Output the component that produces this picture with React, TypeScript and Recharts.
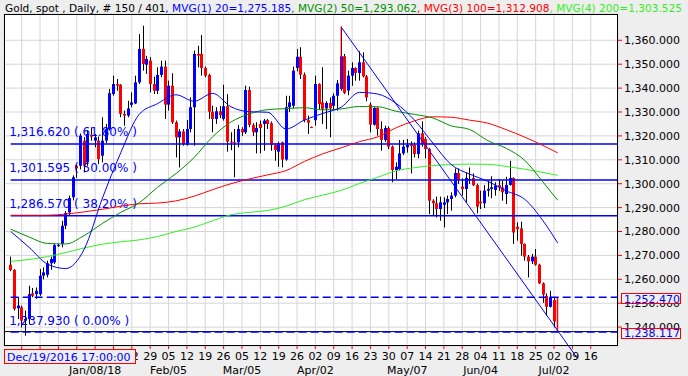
import React from "react";
import { Bar, CartesianGrid, ComposedChart, Line, ReferenceLine, XAxis, YAxis } from "recharts";

// daily candles, Dec 6 2017 .. Jul 3 2018 (index = trading day)
const OPEN = [
  1266.1, 1263.9, 1247.9, 1248.3, 1242.7, 1243.4, 1254.1, 1253.8, 1253.8, 1261.5,
  1261.9, 1266.7, 1267.1, 1274.1, 1274.8, 1282.4, 1288.0, 1294.3, 1307.5, 1307.5,
  1318.0, 1308.9, 1320.5, 1318.0, 1318.0, 1311.7, 1318.0, 1322.9, 1337.5, 1341.7,
  1341.4, 1329.2, 1328.5, 1333.0, 1333.6, 1342.4, 1356.4, 1349.8, 1351.5, 1341.7,
  1338.9, 1345.5, 1349.0, 1333.1, 1341.0, 1325.7, 1319.4, 1321.9, 1316.3, 1322.9,
  1332.0, 1354.3, 1354.3, 1348.4, 1345.5, 1330.1, 1327.1, 1330.3, 1327.1, 1332.4,
  1317.6, 1317.5, 1317.3, 1322.9, 1321.5, 1339.2, 1324.6, 1321.5, 1325.0, 1325.0,
  1326.6, 1325.3, 1316.2, 1313.4, 1317.3, 1310.1, 1332.0, 1332.6, 1348.4, 1353.1,
  1345.6, 1326.6, 1323.7, 1326.6, 1341.7, 1334.0, 1331.5, 1333.8, 1332.6, 1336.8,
  1339.6, 1353.3, 1339.0, 1345.2, 1348.4, 1346.3, 1350.8, 1344.9, 1333.1, 1324.7,
  1331.7, 1322.9, 1318.3, 1323.3, 1315.5, 1305.7, 1306.1, 1312.7, 1315.2, 1316.4,
  1316.2, 1312.4, 1321.1, 1318.7, 1314.5, 1292.9, 1291.8, 1289.4, 1291.2, 1292.2,
  1293.6, 1295.0, 1304.5, 1298.8, 1297.8, 1301.5, 1302.4, 1299.4, 1292.5, 1291.8,
  1297.1, 1297.8, 1297.4, 1299.4, 1298.5, 1295.7, 1299.5, 1302.4, 1282.0, 1281.3,
  1274.8, 1269.5, 1267.5, 1269.5, 1266.1, 1258.3, 1253.1, 1248.5, 1251.3, 1252.5,
];
const HIGH = [
  1269.5, 1264.3, 1252.5, 1249.0, 1246.9, 1257.3, 1256.4, 1256.6, 1264.3, 1265.0,
  1267.8, 1269.5, 1274.8, 1274.8, 1284.5, 1288.5, 1295.0, 1303.5, 1308.0, 1321.0,
  1319.5, 1322.2, 1323.6, 1320.8, 1319.7, 1327.8, 1325.0, 1339.6, 1345.2, 1343.8,
  1341.7, 1330.6, 1334.7, 1338.2, 1345.2, 1362.6, 1366.1, 1353.5, 1352.9, 1344.8,
  1348.7, 1351.5, 1351.5, 1343.1, 1346.2, 1326.4, 1322.9, 1322.9, 1326.6, 1336.1,
  1355.7, 1357.7, 1362.2, 1349.0, 1346.0, 1332.6, 1332.0, 1332.5, 1341.4, 1337.5,
  1321.5, 1322.9, 1324.6, 1323.6, 1341.0, 1340.6, 1325.3, 1325.7, 1326.4, 1327.1,
  1327.1, 1326.0, 1317.0, 1317.6, 1317.6, 1336.8, 1336.8, 1349.0, 1356.4, 1357.1,
  1346.5, 1328.5, 1323.9, 1345.2, 1342.0, 1348.7, 1334.5, 1336.1, 1337.8, 1343.4,
  1365.7, 1354.3, 1347.3, 1350.8, 1348.7, 1355.4, 1355.0, 1345.5, 1334.0, 1332.0,
  1332.0, 1326.1, 1324.3, 1324.0, 1316.0, 1308.9, 1318.3, 1318.3, 1318.7, 1317.7,
  1317.3, 1322.2, 1326.1, 1319.5, 1315.0, 1293.5, 1294.6, 1294.6, 1294.3, 1295.0,
  1296.4, 1306.4, 1306.4, 1302.2, 1304.7, 1306.8, 1304.3, 1300.0, 1297.1, 1299.4,
  1301.3, 1303.1, 1300.6, 1302.0, 1301.3, 1302.9, 1309.6, 1302.7, 1283.8, 1284.1,
  1275.0, 1270.2, 1270.6, 1272.7, 1266.5, 1258.7, 1254.1, 1255.2, 1252.5, 1252.5,
];
const LOW = [
  1263.4, 1246.9, 1243.4, 1239.9, 1236.4, 1241.3, 1252.5, 1251.8, 1253.1, 1260.0,
  1260.8, 1264.0, 1266.4, 1273.6, 1273.4, 1281.0, 1286.5, 1293.0, 1302.5, 1306.0,
  1304.7, 1307.5, 1318.0, 1315.2, 1308.2, 1308.9, 1317.0, 1322.2, 1336.8, 1338.9,
  1327.8, 1324.3, 1327.8, 1332.0, 1333.3, 1341.7, 1347.3, 1345.9, 1338.2, 1337.5,
  1337.5, 1344.5, 1327.1, 1330.6, 1325.0, 1311.0, 1306.8, 1315.9, 1315.9, 1321.5,
  1315.9, 1348.7, 1345.2, 1344.5, 1327.1, 1321.5, 1325.0, 1327.5, 1326.4, 1313.4,
  1314.0, 1302.7, 1315.2, 1320.0, 1320.8, 1323.6, 1320.0, 1312.7, 1312.7, 1313.8,
  1322.9, 1313.8, 1309.6, 1307.1, 1306.8, 1309.6, 1330.0, 1331.5, 1347.0, 1343.8,
  1325.7, 1320.8, 1323.4, 1324.3, 1331.0, 1325.0, 1322.9, 1319.4, 1331.0, 1330.6,
  1338.9, 1337.5, 1337.0, 1341.0, 1343.1, 1343.1, 1344.5, 1334.5, 1321.5, 1324.3,
  1320.1, 1313.8, 1317.5, 1314.5, 1300.6, 1302.0, 1305.5, 1312.0, 1313.0, 1304.3,
  1311.0, 1310.6, 1315.5, 1310.6, 1287.3, 1286.9, 1285.9, 1284.5, 1281.7, 1287.3,
  1288.7, 1294.3, 1299.9, 1295.0, 1292.2, 1299.9, 1299.0, 1287.6, 1289.4, 1289.8,
  1294.6, 1293.9, 1295.0, 1297.0, 1292.9, 1291.5, 1299.2, 1274.8, 1276.2, 1269.9,
  1267.8, 1260.8, 1266.4, 1265.7, 1258.0, 1250.2, 1244.8, 1248.2, 1239.9, 1238.1,
];
const CLOSE = [
  1263.9, 1247.6, 1249.0, 1242.7, 1243.4, 1253.8, 1253.1, 1255.2, 1261.5, 1262.9,
  1266.7, 1268.5, 1274.3, 1274.3, 1282.4, 1287.7, 1294.0, 1302.7, 1306.5, 1320.1,
  1307.5, 1320.8, 1319.7, 1319.4, 1310.3, 1318.0, 1322.9, 1337.9, 1341.7, 1341.0,
  1329.2, 1328.5, 1331.5, 1334.0, 1342.4, 1356.4, 1350.1, 1352.2, 1341.7, 1338.9,
  1345.5, 1349.0, 1333.1, 1341.0, 1325.7, 1319.4, 1321.9, 1316.6, 1322.9, 1332.0,
  1354.3, 1353.6, 1348.4, 1345.2, 1330.1, 1327.1, 1330.3, 1328.7, 1332.4, 1317.6,
  1317.3, 1317.1, 1322.9, 1321.5, 1339.2, 1324.6, 1321.5, 1323.3, 1323.3, 1326.4,
  1325.0, 1316.2, 1314.1, 1316.9, 1310.1, 1332.0, 1334.0, 1347.3, 1353.1, 1345.6,
  1326.6, 1325.5, 1323.6, 1341.7, 1333.3, 1331.3, 1333.8, 1331.5, 1336.8, 1342.0,
  1353.3, 1338.0, 1345.2, 1348.4, 1346.3, 1350.8, 1344.9, 1336.1, 1324.7, 1331.7,
  1322.9, 1318.3, 1323.3, 1315.5, 1305.7, 1307.1, 1312.7, 1315.5, 1316.2, 1315.8,
  1312.4, 1321.1, 1316.6, 1314.5, 1292.9, 1291.8, 1289.4, 1292.2, 1292.2, 1293.6,
  1295.0, 1304.5, 1301.7, 1297.8, 1302.4, 1302.0, 1299.4, 1290.4, 1291.8, 1297.1,
  1297.8, 1298.5, 1299.2, 1298.5, 1296.4, 1299.5, 1302.4, 1279.6, 1281.0, 1274.8,
  1269.5, 1267.5, 1269.5, 1266.1, 1258.3, 1253.6, 1248.5, 1252.7, 1242.4, 1238.1,
];

// moving averages at these candle indexes
const MA_IDX = [0, 5, 10, 15, 20, 25, 30, 35, 40, 45, 50, 55, 60, 65, 70, 75, 80, 85, 90, 95, 100, 105, 110, 115, 120, 125, 130, 135, 140, 145, 149];
const MA20 = [1280, 1273.4, 1266.4, 1264.5, 1272.5, 1294, 1313, 1329, 1333.5, 1337.2, 1334.5, 1337.8, 1332.2, 1330.1, 1329.9, 1322.9, 1326.6, 1329.4, 1332, 1338.2, 1337.5, 1333.6, 1326.6, 1317, 1308, 1304, 1301, 1297, 1293.5, 1284.5, 1275.2];
const MA50 = [1281, 1277.7, 1275, 1274.8, 1278.3, 1283.4, 1288, 1292, 1298.5, 1304.2, 1311, 1319.6, 1325.8, 1329.2, 1331, 1331.4, 1331.8, 1330.9, 1331.3, 1332.3, 1332.2, 1330.3, 1329, 1327.5, 1324.2, 1322.7, 1318, 1314.8, 1309.8, 1300.7, 1293.1];
const MA100 = [1286.8, 1286.8, 1286.8, 1287.3, 1288.2, 1289.3, 1290.6, 1291.6, 1291.9, 1292.8, 1294.8, 1297.5, 1300, 1302, 1303.7, 1305.5, 1309.3, 1312.5, 1315, 1317.6, 1319.6, 1323.4, 1326.3, 1328, 1327.8, 1326.6, 1325.3, 1322.6, 1319.5, 1316, 1312.9];
const MA200 = [1267.5, 1268.3, 1269.5, 1271.2, 1273.1, 1274.7, 1275.7, 1276.5, 1277.9, 1280, 1281.8, 1284.5, 1287, 1288, 1288.8, 1290.6, 1293.3, 1295.2, 1297.2, 1300.1, 1302.7, 1305.4, 1306.7, 1307.6, 1308, 1308.2, 1308.1, 1307.2, 1306.1, 1304.7, 1303.5];

// weekly (monday) ticks; the first six sit under the cursor box
const WEEK_IDX = [3, 8, 13, 18, 23, 28, 33, 38, 43, 48, 53, 58, 63, 68, 73, 78, 83, 88, 93, 98, 103, 108, 113, 118, 123, 128, 133, 138, 143, 148, 153, 158];
const WEEK_DAYS = ["", "", "", "", "", "", "22", "29", "05", "12", "19", "26", "05", "12", "19", "26", "02", "09", "16", "23", "30", "07", "14", "21", "28", "04", "11", "18", "25", "02", "09", "16"];
const MONTH_AT: Record<number, string> = { 23: "Jan/08/18", 43: "Feb/05", 63: "Mar/05", 83: "Apr/02", 108: "May/07", 128: "Jun/04", 148: "Jul/02" };

const Y_TICKS = [1240, 1250, 1260, 1270, 1280, 1290, 1300, 1310, 1320, 1330, 1340, 1350, 1360];
const Y_DOMAIN = [1232.1, 1371];

const FIB_LEVELS = [1316.62, 1301.595, 1286.57, 1237.93];
const FIB_TEXT = ["1,316.620 ( 61.80% )", "1,301.595 ( 50.00% )", "1,286.570 ( 38.20% )", "1,237.930 ( 0.00% )"];

const LAST_PRICE = 1252.47;
const BID_PRICE = 1238.117;
const TAGS = [LAST_PRICE, BID_PRICE];
const TREND = [{ x: 90, y: 1365.6 }, { x: 154.3, y: 1227.1 }];

const X_MIN = -1.82;
const X_MAX = 165.43;

const BLUE = "#0000ff";
const RED = "#ff0000";
const GREEN = "#009000";
const LIME = "#33ee22";
const BG = "#eeeeee";

const rows: any[] = OPEN.map((o, i) => ({ i, open: o, high: HIGH[i], low: LOW[i], close: CLOSE[i] }));
MA_IDX.forEach((idx, k) => {
  rows[idx].ma20 = MA20[k];
  rows[idx].ma50 = MA50[k];
  rows[idx].ma100 = MA100[k];
  rows[idx].ma200 = MA200[k];
});

const fmt = (v: number) => v.toLocaleString("en-US", { minimumFractionDigits: 3, maximumFractionDigits: 3 });

function Candle(props: any) {
  const { x, y, width, height, payload, index } = props;
  if (x == null || y == null) return null;
  const { open, close, high, low } = payload;
  const top = height >= 0 ? y : y + height;
  const h = Math.abs(height);
  const ppu = high > low ? h / (high - low) : 0;
  const cx = Math.round(x + width / 2) + 0.5;
  const yO = top + (high - open) * ppu;
  const yC = top + (high - close) * ppu;
  const color = close > open ? BLUE : RED;
  if (index === OPEN.length - 1) {
    return <line x1={cx} x2={cx} y1={top} y2={top + h} stroke={color} strokeWidth={1.5} />;
  }
  return (
    <g>
      <line x1={cx} x2={cx} y1={top} y2={top + h} stroke="#000" />
      <rect x={cx - 1.5} y={Math.min(yO, yC)} width={3} height={Math.max(Math.abs(yC - yO), 1)} fill={color} />
    </g>
  );
}

function WeekTick(props: any) {
  const { x, y, payload } = props;
  const k = WEEK_IDX.indexOf(payload.value);
  const month = MONTH_AT[payload.value];
  return (
    <g>
      <line x1={x} x2={x} y1={y} y2={y + 3} stroke={RED} />
      {WEEK_DAYS[k] && <text x={x} y={y + 13.5} textAnchor="middle" fontSize={11} fill="#000">{WEEK_DAYS[k]}</text>}
      {month && <text x={x} y={y + 28} textAnchor="middle" fontSize={11} fill="#000">{month}</text>}
    </g>
  );
}

function PriceTick(props: any) {
  const { x, y, payload } = props;
  const v = payload.value;
  if (TAGS.includes(v)) {
    return (
      <g>
        <rect x={x + 3.5} y={Math.round(y) - 3.5} width={59} height={10} fill={BG} stroke={RED} />
        <text x={x + 6} y={y + 5.5} fontSize={11} fill={BLUE}>{fmt(v)}</text>
      </g>
    );
  }
  return (
    <g>
      <line x1={x} x2={x + 4} y1={y} y2={y} stroke={RED} />
      <text x={x + 6} y={y} dy="0.36em" fontSize={11} fill="#000">{fmt(v)}</text>
    </g>
  );
}

function FibLabel(props: any) {
  const { viewBox, text } = props;
  if (!viewBox) return null;
  return <text x={viewBox.x - 1.5} y={viewBox.y - 7.5} fontSize={12} fill={BLUE}>{text}</text>;
}

export default function App() {
  return (
    <div style={{ position: "absolute", left: 0, top: 0, width: 688, height: 376, background: BG, fontFamily: "'DejaVu Sans', sans-serif" }}>
      <ComposedChart width={688} height={376} data={rows} margin={{ top: 14, right: 0, bottom: 0, left: 4 }}>
        <CartesianGrid stroke="#d6d6d6" fill="#ffffff" />
        <XAxis
          dataKey="i"
          type="number"
          domain={[X_MIN, X_MAX]}
          allowDataOverflow
          ticks={WEEK_IDX}
          interval={0}
          tickSize={0}
          tickMargin={0}
          tickLine={false}
          axisLine={false}
          height={30}
          tick={<WeekTick />}
        />
        <YAxis hide type="number" domain={Y_DOMAIN} allowDataOverflow ticks={Y_TICKS} />
        <YAxis
          yAxisId="price"
          orientation="right"
          type="number"
          domain={Y_DOMAIN}
          allowDataOverflow
          ticks={[...Y_TICKS, ...TAGS]}
          interval={0}
          width={70}
          tickSize={0}
          tickMargin={0}
          tickLine={false}
          axisLine={false}
          tick={<PriceTick />}
        />
        {FIB_LEVELS.slice(0, 3).map((v, k) => (
          <ReferenceLine
            key={v}
            segment={[{ x: 0, y: v }, { x: X_MAX, y: v }]}
            stroke={BLUE}
            strokeWidth={1.5}
            ifOverflow="visible"
            label={<FibLabel text={FIB_TEXT[k]} />}
          />
        ))}
        <Bar dataKey={(d: any) => [d.low, d.high]} barSize={3} shape={<Candle />} isAnimationActive={false} />
        <Line dataKey="ma200" type="monotone" stroke={LIME} strokeWidth={1} dot={false} connectNulls isAnimationActive={false} />
        <Line dataKey="ma100" type="monotone" stroke={RED} strokeWidth={1} dot={false} connectNulls isAnimationActive={false} />
        <Line dataKey="ma50" type="monotone" stroke={GREEN} strokeWidth={1} dot={false} connectNulls isAnimationActive={false} />
        <Line dataKey="ma20" type="monotone" stroke={BLUE} strokeWidth={1} dot={false} connectNulls isAnimationActive={false} />
        <ReferenceLine segment={TREND} stroke={BLUE} strokeWidth={1} ifOverflow="visible" />
        <ReferenceLine segment={[{ x: 90, y: 1365.7 }, { x: 90, y: 1339.6 }]} stroke={RED} strokeWidth={1} ifOverflow="visible" />
        <ReferenceLine y={BID_PRICE} stroke="#000" strokeWidth={1} />
        <ReferenceLine
          segment={[{ x: 0, y: FIB_LEVELS[3] }, { x: X_MAX, y: FIB_LEVELS[3] }]}
          stroke={BLUE}
          strokeWidth={1.5}
          strokeDasharray="8 4"
          ifOverflow="visible"
          label={<FibLabel text={FIB_TEXT[3]} />}
        />
        <ReferenceLine
          segment={[{ x: 0, y: LAST_PRICE }, { x: X_MAX, y: LAST_PRICE }]}
          stroke={BLUE}
          strokeWidth={1.5}
          strokeDasharray="8 4"
          ifOverflow="visible"
        />
      </ComposedChart>
      <svg width={688} height={376} style={{ position: "absolute", left: 0, top: 0, pointerEvents: "none" }}>
        <rect x={4.5} y={14.5} width={613} height={331} fill="none" stroke="#000" />
        <text x={5} y={12} fontSize={11} textLength={677} lengthAdjust="spacingAndGlyphs">
          <tspan fill="#000">Gold, spot , Daily, # 150 / 401</tspan>
          <tspan fill={BLUE}>, MVG(1) 20=1,275.185</tspan>
          <tspan fill={GREEN}>, MVG(2) 50=1,293.062</tspan>
          <tspan fill={RED}>, MVG(3) 100=1,312.908</tspan>
          <tspan fill={LIME}>, MVG(4) 200=1,303.525</tspan>
        </text>
        <rect x={4.5} y={349.5} width={131} height={14} fill={BG} stroke={RED} />
        <text x={7} y={360.5} fontSize={11} fill={BLUE}>Dec/19/2016 17:00:00</text>
      </svg>
    </div>
  );
}
